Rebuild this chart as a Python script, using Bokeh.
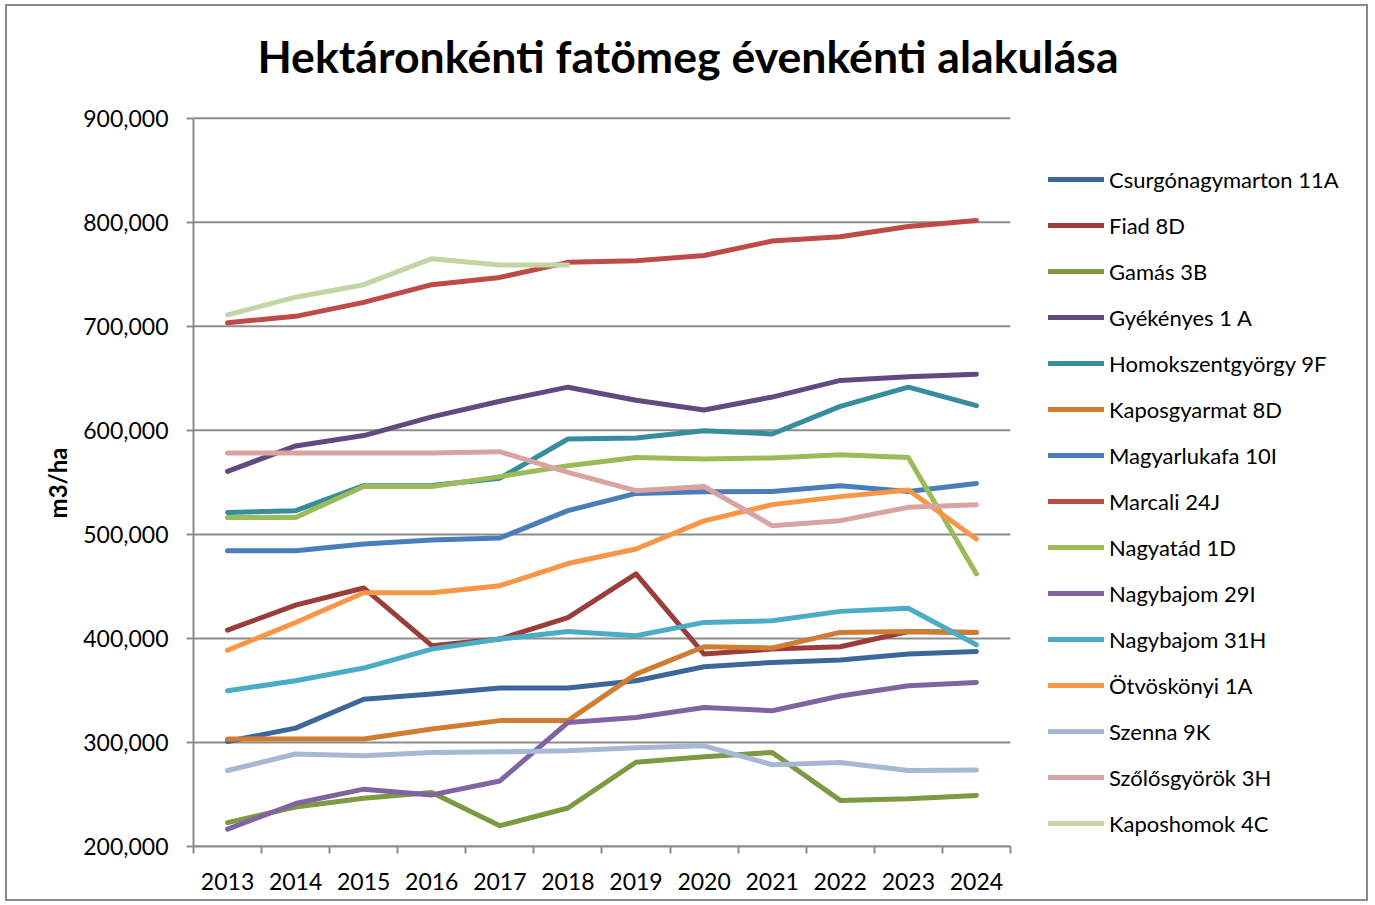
from bokeh.plotting import figure
from bokeh.models import FixedTicker, Legend, LegendItem, Range1d, Label, Title
from bokeh.embed import file_html
from bokeh.resources import INLINE

years = [2013, 2014, 2015, 2016, 2017, 2018, 2019, 2020, 2021, 2022, 2023, 2024]
year_labels = ["2013", "2014", "2015", "2016", "2017", "2018", "2019", "2020", "2021", "2022", "2023", "2024"]
y_ticks = [200000, 300000, 400000, 500000, 600000, 700000, 800000, 900000]
y_tick_labels = ["200,000", "300,000", "400,000", "500,000", "600,000", "700,000", "800,000", "900,000"]

csurgonagymarton_11a = [301000, 313800, 341600, 346500, 352300, 352300, 359300, 372800, 376900, 379200, 385000, 387500]
fiad_8d = [408000, 432000, 448500, 393000, 399400, 420000, 462000, 385000, 389800, 392000, 406700, 405800]
gamas_3b = [223000, 238000, 246400, 251800, 220000, 237000, 281000, 286300, 290400, 244300, 245900, 249000]
gyekenyes_1a = [560600, 585000, 595000, 613000, 628000, 641500, 629000, 619600, 632000, 648000, 651600, 654000]
homokszentgyorgy_9f = [521000, 522800, 546800, 547000, 554000, 591700, 592700, 599700, 596500, 623000, 641500, 623800]
kaposgyarmat_8d = [303300, 303300, 303300, 312900, 321000, 321000, 365700, 392000, 390800, 405800, 406700, 405800]
magyarlukafa_10i = [484300, 484300, 490700, 494600, 496500, 522800, 539400, 541000, 541300, 546800, 541300, 549000]
marcali_24j = [703500, 709600, 723000, 740000, 747000, 761500, 763000, 768000, 782000, 786000, 796000, 801600]
nagyatad_1d = [516300, 516300, 546000, 546000, 555500, 566000, 574000, 572500, 573500, 576600, 574000, 462000]
nagybajom_29i = [216700, 241300, 255100, 249600, 263000, 319200, 324000, 333600, 330500, 344600, 354500, 357700]
nagybajom_31h = [349700, 359300, 371500, 389800, 399400, 406700, 402600, 415400, 417000, 426000, 429000, 393900]
otvoskonyi_1a = [388600, 415300, 443900, 443900, 450700, 472000, 486000, 513000, 528600, 536300, 542700, 495600]
szenna_9k = [273000, 288900, 287200, 290400, 291000, 292000, 295000, 296800, 278600, 280800, 273000, 273500]
szolosgyorok_3h = [578300, 578300, 578300, 578300, 579500, 559600, 542000, 546000, 508400, 513200, 526000, 528600]
kaposhomok_4c = [711000, 728000, 740000, 765000, 759000, 759000]

series_names = ["Csurgónagymarton 11A", "Fiad 8D", "Gamás 3B", "Gyékényes 1 A", "Homokszentgyörgy 9F",
                "Kaposgyarmat 8D", "Magyarlukafa 10I", "Marcali 24J", "Nagyatád 1D", "Nagybajom 29I",
                "Nagybajom 31H", "Ötvöskönyi 1A", "Szenna 9K", "Szőlősgyörök 3H", "Kaposhomok 4C"]
series_values = [csurgonagymarton_11a, fiad_8d, gamas_3b, gyekenyes_1a, homokszentgyorgy_9f,
                 kaposgyarmat_8d, magyarlukafa_10i, marcali_24j, nagyatad_1d, nagybajom_29i,
                 nagybajom_31h, otvoskonyi_1a, szenna_9k, szolosgyorok_3h, kaposhomok_4c]
series_colors = ["#3B679B", "#9B3D3B", "#7B9A42", "#614A7E", "#378C9E",
                 "#D07D34", "#4A7EBB", "#BE4B48", "#9BBB59", "#8064A2",
                 "#4BACC6", "#F79646", "#A7B8D6", "#D8A3A1", "#C3D5A4"]

chart_title = "Hektáronkénti fatömeg évenkénti alakulása"
y_axis_title = "m3/ha"

FONT = "Lato"
GRID = "#8c8c8c"

# ---- layout in pixels ----
FIG_W, FIG_H = 1363, 897
BORDER_L, BORDER_B = 186, 57
CONTENT_TOP = 6            # page y of the canvas top (margin + border)
FRAME_LEFT_PAGE = 193      # page x of plot-area left edge
GRID_TOP_PAGE = 117.7      # page y of the top gridline
PX_PER_YEAR = 68.08
PX_PER_UNIT = 728.0 / (y_ticks[-1] - y_ticks[0])

frame_w = FIG_W - BORDER_L
x_lo = years[0] - 0.5
x_hi_cat = years[-1] + 0.5
x_hi = x_lo + frame_w / PX_PER_YEAR
y_lo = y_ticks[0]
y_hi = y_ticks[-1] + (GRID_TOP_PAGE - CONTENT_TOP) / PX_PER_UNIT

p = figure(width=FIG_W, height=FIG_H, output_backend="svg", toolbar_location=None,
           x_range=Range1d(x_lo, x_hi), y_range=Range1d(y_lo, y_hi),
           min_border_left=BORDER_L, min_border_right=0, min_border_top=0, min_border_bottom=BORDER_B)
p.background_fill_color = "white"
p.border_fill_color = "white"
p.outline_line_color = None
p.styles = {"border": "2px solid #8a8a8a", "margin-left": "5px", "margin-top": "4px"}

# chart title placed above the top gridline
title_x = x_lo + (687.5 - FRAME_LEFT_PAGE) / PX_PER_YEAR
title_y = y_ticks[-1] + (GRID_TOP_PAGE - 55) / PX_PER_UNIT
p.add_layout(Label(x=title_x, y=title_y, text=chart_title, text_align="center",
                   text_baseline="alphabetic", text_font=FONT, text_font_size="44.6px",
                   text_font_style="bold", text_color="black"))

# x axis: labels at years, ticks between categories
xa = p.xaxis[0]
xa.bounds = (x_lo, x_hi_cat)
xa.ticker = FixedTicker(ticks=years, minor_ticks=[y - 0.5 for y in years] + [x_hi_cat])
xa.major_label_overrides = {y: l for y, l in zip(years, year_labels)}
xa.major_tick_out = 0
xa.major_tick_in = 0
xa.minor_tick_out = 7
xa.minor_tick_in = 0
xa.minor_tick_line_color = GRID
xa.minor_tick_line_width = 2
xa.axis_line_color = GRID
xa.axis_line_width = 2
xa.major_label_text_font = FONT
xa.major_label_text_font_size = "23px"
xa.major_label_text_color = "black"
xa.major_label_standoff = 19

ya = p.yaxis[0]
ya.bounds = (y_ticks[0], y_ticks[-1])
ya.ticker = FixedTicker(ticks=y_ticks, minor_ticks=[])
ya.major_label_overrides = {v: l for v, l in zip(y_ticks, y_tick_labels)}
ya.major_tick_out = 7
ya.major_tick_in = 0
ya.major_tick_line_color = GRID
ya.major_tick_line_width = 2
ya.axis_line_color = GRID
ya.axis_line_width = 2
ya.major_label_text_font = FONT
ya.major_label_text_font_size = "23px"
ya.major_label_text_color = "black"
ya.major_label_standoff = 18

# y-axis title, centred on the value range (placed in the left panel)
p.add_layout(Title(text=y_axis_title, align="right", vertical_align="bottom",
                   offset=447 - CONTENT_TOP, standoff=18,
                   text_font=FONT, text_font_size="24px", text_font_style="bold",
                   text_color="black"), "left")

p.xgrid.visible = False
p.ygrid.visible = False
# horizontal gridlines limited to the category area
p.segment(x0=[x_lo] * len(y_ticks), x1=[x_hi_cat] * len(y_ticks), y0=y_ticks, y1=y_ticks,
          line_color=GRID, line_width=2)

items = []
for name, vals, col in zip(series_names, series_values, series_colors):
    r = p.line(years[:len(vals)], vals, line_color=col, line_width=5,
               line_cap="round", line_join="round")
    items.append(LegendItem(label=name, renderers=[r]))

legend = Legend(items=items, location=(855, 9), orientation="vertical",
                glyph_width=56, glyph_height=28, label_height=28, spacing=18,
                label_standoff=5, padding=0, margin=0,
                label_text_font=FONT, label_text_font_size="22px", label_text_color="black",
                border_line_color=None, background_fill_alpha=0)
p.add_layout(legend, "center")

open("out.html", "w").write(file_html(p, INLINE))
